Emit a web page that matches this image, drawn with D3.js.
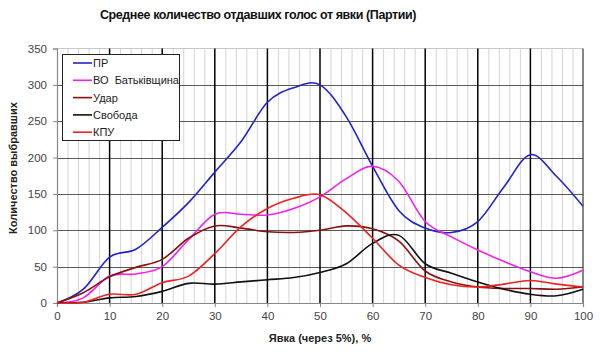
<!DOCTYPE html>
<html><head><meta charset="utf-8">
<script src="https://cdn.jsdelivr.net/npm/d3@7"></script>
<style>body{margin:0;background:#fff}svg{display:block;font-family:"Liberation Sans",Arial,sans-serif}</style>
</head><body><svg id="c" width="600" height="356"></svg>
<script>
const turnout = [0,5,10,15,20,25,30,35,40,45,50,55,60,65,70,75,80,85,90,95,100];
const seriesNames = ["ПР","ВО  Батьківщина","Удар","Свобода","КПУ"];
const seriesColors = ["#2222cc","#ee22ee","#8b1010","#111111","#ee2222"];
const pr      = [0,19,63,74,104,138,180,222,276,296,300,256,188,127,103,97,112,160,204,174,133];
const batk    = [0,7,37,40,50,87,122,122,121,130,146,171,188,167,112,91,73,57,43,34,45];
const udar    = [0,14,36,49,60,89,106,103,98,97,100,106,102,85,44,29,22,20,20,19,22];
const svoboda = [0,1,7,9,16,27,26,29,32,35,42,54,82,93,54,41,29,19,12,10,19];
const kpu     = [0,1,12,12,28,37,68,105,130,144,149,124,89,52,35,25,22,26,31,26,22];
const seriesValues = [pr,batk,udar,svoboda,kpu];
const yTicks = [0,50,100,150,200,250,300,350];
const xTicks = [0,10,20,30,40,50,60,70,80,90,100];

const svg = d3.select("#c");
const L=57, R=583, T=48.5, B=303;
const x = d3.scaleLinear().domain([0,100]).range([L,R]);
const y = d3.scaleLinear().domain([0,350]).range([B,T]);

// minor vertical grid
svg.append("g").selectAll("line").data(d3.range(2,100,2).filter(v=>v%10!==0)).join("line")
  .attr("x1",d=>x(d)+0.5).attr("x2",d=>x(d)+0.5).attr("y1",T).attr("y2",B)
  .attr("stroke","#d4d4d4").attr("stroke-width",1);
// top border
svg.append("line").attr("x1",L).attr("x2",R).attr("y1",T).attr("y2",T).attr("stroke","#c8c8c8");
// horizontal grid
svg.append("g").selectAll("line").data(yTicks.filter(v=>v>0&&v<350)).join("line")
  .attr("x1",L).attr("x2",R).attr("y1",d=>Math.round(y(d))+0.5).attr("y2",d=>Math.round(y(d))+0.5)
  .attr("stroke","#5a5a5a").attr("stroke-width",1.2);
// major vertical
svg.append("g").selectAll("line").data(xTicks.filter(v=>v>0&&v<100)).join("line")
  .attr("x1",d=>x(d)).attr("x2",d=>x(d)).attr("y1",T).attr("y2",B)
  .attr("stroke","#000").attr("stroke-width",1.5);
svg.append("line").attr("x1",R).attr("x2",R).attr("y1",T).attr("y2",B).attr("stroke","#444").attr("stroke-width",1.3);

// axes
const xAxis = svg.append("g").attr("transform",`translate(0,${B})`)
  .call(d3.axisBottom(x).tickValues(xTicks).tickSize(4).tickPadding(5));
const yAxis = svg.append("g").attr("transform",`translate(${L},0)`)
  .call(d3.axisLeft(y).tickValues(yTicks).tickSize(4).tickPadding(6));
[xAxis,yAxis].forEach(a=>{
  a.select(".domain").attr("stroke","#888").attr("stroke-width",1.2);
  a.selectAll(".tick line").attr("stroke","#888");
  a.selectAll("text").attr("font-size",11.5).attr("fill","#444").attr("font-family","'Liberation Sans',Arial,sans-serif");
});

// lines
const line = d3.line().x((d,i)=>x(turnout[i])).y(d=>y(d)).curve(d3.curveCatmullRom.alpha(0));
svg.append("g").selectAll("path").data(seriesValues).join("path")
  .attr("d",d=>line(d)).attr("fill","none")
  .attr("stroke",(d,i)=>seriesColors[i]).attr("stroke-width",1.6);

// legend
const lg = svg.append("g");
lg.append("rect").attr("x",62.5).attr("y",54.5).attr("width",117).attr("height",86)
  .attr("fill","#fff").attr("stroke","#222").attr("stroke-width",1);
seriesNames.forEach((n,i)=>{
  const yy = 63 + i*17.3;
  lg.append("line").attr("x1",73).attr("x2",92).attr("y1",yy).attr("y2",yy)
    .attr("stroke",seriesColors[i]).attr("stroke-width",1.6);
  lg.append("text").attr("x",93).attr("y",yy+4).attr("font-size",11).attr("fill","#222")
    .style("white-space","pre").text(n);
});

// titles
svg.append("text").attr("x",258).attr("y",19).attr("text-anchor","middle")
  .attr("font-size",12.5).attr("font-weight","bold").attr("letter-spacing",-0.4).attr("fill","#111")
  .text("Среднее количество отдавших голос от явки (Партии)");
svg.append("text").attr("x",320).attr("y",342).attr("text-anchor","middle")
  .attr("font-size",11).attr("font-weight","bold").attr("fill","#222")
  .text("Явка (через 5%), %");
svg.append("text").attr("transform","translate(17,168) rotate(-90)").attr("text-anchor","middle")
  .attr("font-size",11).attr("font-weight","bold").attr("fill","#222")
  .text("Количество выбравших");
</script></body></html>
